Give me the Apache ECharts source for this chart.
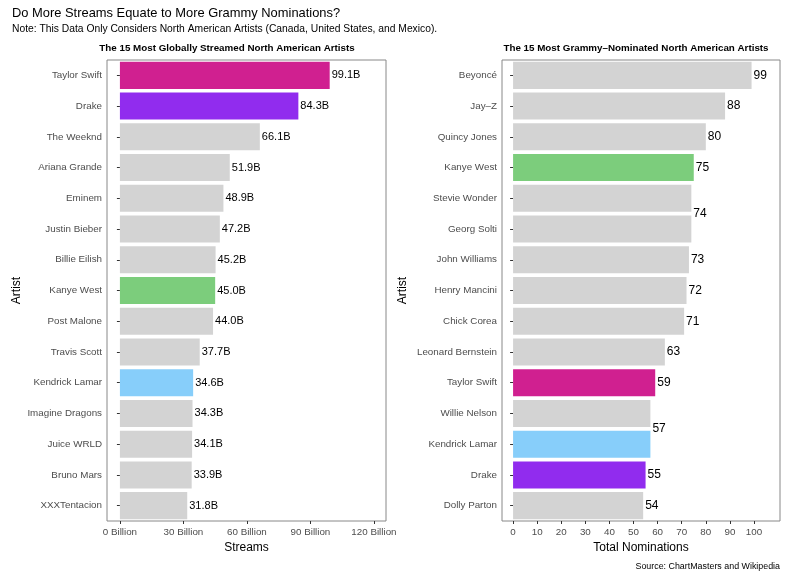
<!DOCTYPE html>
<html>
<head>
<meta charset="utf-8">
<script src="https://cdn.jsdelivr.net/npm/echarts@6/dist/echarts.min.js"></script>
<style>
  html, body { margin: 0; padding: 0; background: #fff; }
  #chart { width: 792px; height: 576px; }
</style>
</head>
<body>
<div id="chart"></div>
<script>
// streams (billions), top to bottom
var streamArtists = ['Taylor Swift', 'Drake', 'The Weeknd', 'Ariana Grande', 'Eminem', 'Justin Bieber',
  'Billie Eilish', 'Kanye West', 'Post Malone', 'Travis Scott', 'Kendrick Lamar', 'Imagine Dragons',
  'Juice WRLD', 'Bruno Mars', 'XXXTentacion'];
var streamValues = [99.1, 84.3, 66.1, 51.9, 48.9, 47.2, 45.2, 45.0, 44.0, 37.7, 34.6, 34.3, 34.1, 33.9, 31.8];

// grammy nominations, top to bottom
var nomArtists = ['Beyoncé', 'Jay–Z', 'Quincy Jones', 'Kanye West', 'Stevie Wonder', 'Georg Solti',
  'John Williams', 'Henry Mancini', 'Chick Corea', 'Leonard Bernstein', 'Taylor Swift', 'Willie Nelson',
  'Kendrick Lamar', 'Drake', 'Dolly Parton'];
var nomValues = [99, 88, 80, 75, 74, 74, 73, 72, 71, 63, 59, 57, 57, 55, 54];

var streamTicks = [0, 30, 60, 90, 120];
var nomTicks = [0, 10, 20, 30, 40, 50, 60, 70, 80, 90, 100];

// highlight colours for artists in both lists
var highlight = {
  'Taylor Swift': '#D02090',
  'Drake': '#912CEE',
  'Kanye West': '#7CCD7C',
  'Kendrick Lamar': '#87CEFA'
};
var baseGrey = '#D3D3D3';

var font = 'Helvetica, "Liberation Sans", Arial, sans-serif';
var plotH = 461;

// equal neighbouring values share one label, drawn between the two bars
function barData(names, values, mergeTies) {
  var half = plotH / names.length / 2;
  return values.map(function (v, i) {
    var item = { value: v, itemStyle: { color: highlight[names[i]] || baseGrey } };
    if (mergeTies) {
      if (i > 0 && values[i - 1] === v) item.label = { show: false };
      else if (i < values.length - 1 && values[i + 1] === v) item.label = { offset: [0, half] };
    }
    return item;
  });
}

var chart = echarts.init(document.getElementById('chart'), null, { renderer: 'canvas' });

var catAxis = function (idx, names) {
  return {
    type: 'category', gridIndex: idx, data: names, inverse: true,
    name: 'Artist', nameLocation: 'middle', nameGap: idx === 0 ? 84 : 93, nameRotate: 90,
    nameTextStyle: { fontFamily: font, fontSize: 12, color: '#000' },
    axisLine: { show: false },
    axisTick: { show: true, alignWithLabel: true, length: 3, lineStyle: { color: '#333' } },
    axisLabel: { fontFamily: font, fontSize: 9.8, color: '#4D4D4D', margin: 5 }
  };
};

var valAxis = function (idx, min, max, ticks, fmt, title) {
  return {
    type: 'value', gridIndex: idx, min: min, max: max,
    name: title, nameLocation: 'middle', nameGap: 17,
    nameTextStyle: { fontFamily: font, fontSize: 12, color: '#000' },
    splitLine: { show: false },
    axisLine: { show: false },
    axisTick: { show: true, length: 3, customValues: ticks, lineStyle: { color: '#333' } },
    axisLabel: { fontFamily: font, fontSize: 9.8, color: '#4D4D4D', margin: 6,
      customValues: ticks, formatter: fmt }
  };
};

var option = {
  backgroundColor: '#fff',
  animation: false,
  title: [
    { text: 'Do More Streams Equate to More Grammy Nominations?', left: 12, top: 7, padding: 0,
      textStyle: { fontFamily: font, fontSize: 12.9, fontWeight: 'normal', color: '#000' } },
    { text: 'Note: This Data Only Considers North American Artists (Canada, United States, and Mexico).',
      left: 12, top: 24, padding: 0,
      textStyle: { fontFamily: font, fontSize: 10.3, fontWeight: 'normal', color: '#000' } },
    { text: 'The 15 Most Globally Streamed North American Artists', left: 227, top: 43, padding: 0,
      textAlign: 'center', textStyle: { fontFamily: font, fontSize: 9.8, fontWeight: 'bold', color: '#000' } },
    { text: 'The 15 Most Grammy–Nominated North American Artists', left: 636, top: 43, padding: 0,
      textAlign: 'center', textStyle: { fontFamily: font, fontSize: 9.8, fontWeight: 'bold', color: '#000' } },
    { text: 'Source: ChartMasters and Wikipedia', right: 12, top: 562, padding: 0,
      textStyle: { fontFamily: font, fontSize: 8.9, fontWeight: 'normal', color: '#000' } }
  ],
  grid: [
    { left: 107, top: 60, width: 279, height: plotH, show: true, borderColor: '#888', borderWidth: 1 },
    { left: 502, top: 60, width: 278, height: plotH, show: true, borderColor: '#888', borderWidth: 1 }
  ],
  xAxis: [
    valAxis(0, -6.1, 125.7, streamTicks, function (v) { return v + ' Billion'; }, 'Streams'),
    valAxis(1, -4.6, 110.8, nomTicks, null, 'Total Nominations')
  ],
  yAxis: [catAxis(0, streamArtists), catAxis(1, nomArtists)],
  series: [
    {
      type: 'bar', xAxisIndex: 0, yAxisIndex: 0, barCategoryGap: '12%',
      data: barData(streamArtists, streamValues, false),
      label: { show: true, position: 'right', distance: 2, fontFamily: font, fontSize: 11, color: '#000',
        formatter: function (p) { return p.value.toFixed(1) + 'B'; } }
    },
    {
      type: 'bar', xAxisIndex: 1, yAxisIndex: 1, barCategoryGap: '12%',
      data: barData(nomArtists, nomValues, true),
      label: { show: true, position: 'right', distance: 2, fontFamily: font, fontSize: 12, color: '#000' }
    }
  ]
};

chart.setOption(option);
</script>
</body>
</html>
